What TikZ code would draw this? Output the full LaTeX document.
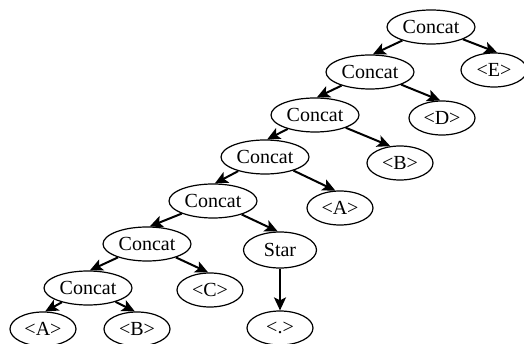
\documentclass[tikz,border=0pt]{standalone}
\usepackage{fontspec}
\setmainfont{Liberation Serif}
\usetikzlibrary{shapes.geometric,arrows.meta}
\begin{document}
\begin{tikzpicture}[x=1pt,y=-1pt,
  every node/.style={ellipse,draw,line width=1.2pt,inner sep=0pt,font=\fontsize{20}{22}\selectfont},
  cnode/.style={minimum width=88pt,minimum height=34pt},
  lnode/.style={minimum width=66pt,minimum height=34pt},
  snode/.style={minimum width=73pt,minimum height=36pt},
  edge/.style={line width=2pt,-{Stealth[length=13pt,width=12pt,inset=3pt]}}]
\useasboundingbox (0,0) rectangle (524,344);
\node[cnode] (c1) at (431,27) {Concat};
\node[lnode] (e)  at (494,70) {<E>};
\node[cnode] (c2) at (370,72) {Concat};
\node[lnode] (d)  at (442,118) {<D>};
\node[cnode] (c3) at (315,115) {Concat};
\node[lnode] (b1) at (400,163) {<B>};
\node[cnode] (c4) at (265,157) {Concat};
\node[lnode] (a1) at (340,208) {<A>};
\node[cnode] (c5) at (213,201) {Concat};
\node[snode] (s)  at (280,250) {Star};
\node[cnode] (c6) at (147,244) {Concat};
\node[lnode] (c)  at (210,290) {<C>};
\node[cnode] (c7) at (88,288) {Concat};
\node[lnode] (a2) at (43,329) {<A>};
\node[lnode] (b2) at (137,329) {<B>};
\node[lnode] (dot) at (280,328) {<.>};
\draw[edge] (c1) -- (c2.81);
\draw[edge] (c1) -- (e.80);
\draw[edge] (c2) -- (c3.84);
\draw[edge] (c2) -- (d.96);
\draw[edge] (c3) -- (c4.83);
\draw[edge] (c3) -- (b1.120);
\draw[edge] (c4) -- (c5.84);
\draw[edge] (c4) -- (a1.105);
\draw[edge] (c5) -- (c6.81);
\draw[edge] (c5) -- (s.97);
\draw[edge] (c6) -- (c7.84);
\draw[edge] (c6) -- (c.96);
\draw[edge] (c7) -- (a2.83);
\draw[edge] (c7) -- (b2.97);
\draw[edge] (s) -- (dot.90);
\end{tikzpicture}
\end{document}
